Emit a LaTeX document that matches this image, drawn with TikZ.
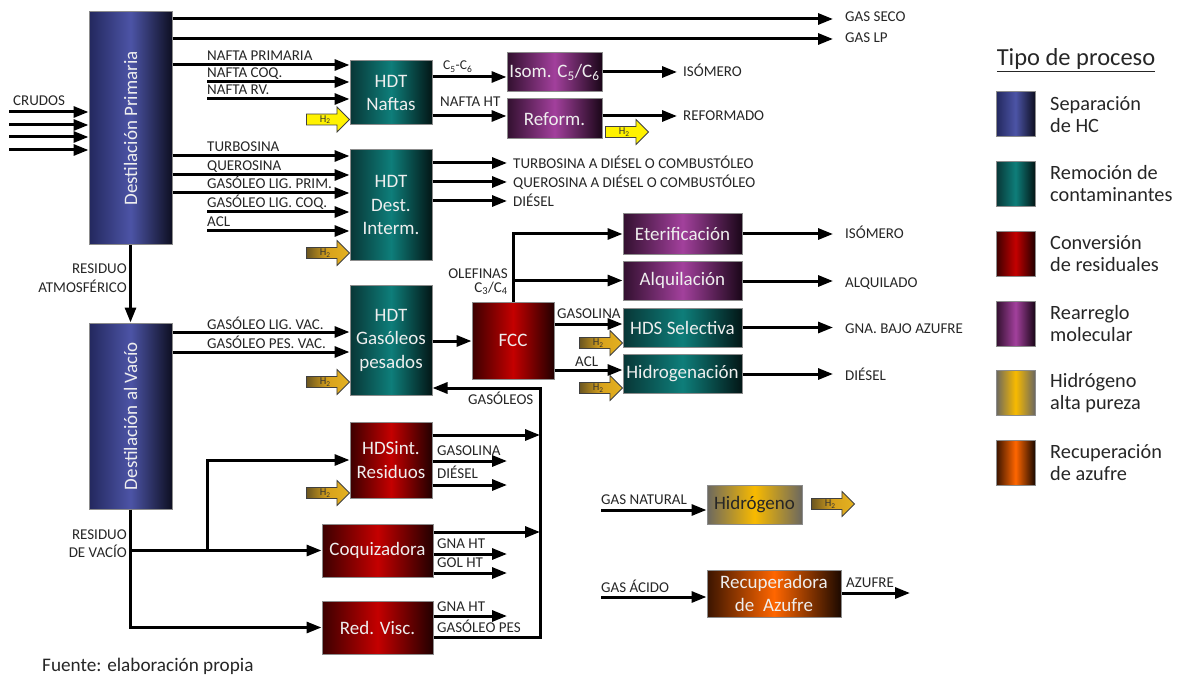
\documentclass[tikz,border=0pt]{standalone}
\usepackage{fontspec}
\setmainfont{Carlito}
\usetikzlibrary{arrows.meta,shapes.arrows}

\definecolor{labelgray}{HTML}{262626}
\definecolor{boxtext}{HTML}{EEEEEE}
\definecolor{sepL}{HTML}{23285E}\definecolor{sepM}{HTML}{4C54A6}\definecolor{sepR}{HTML}{0E0F22}
\definecolor{remL}{HTML}{083636}\definecolor{remM}{HTML}{0E7E7A}\definecolor{remR}{HTML}{031616}
\definecolor{conL}{HTML}{3C0000}\definecolor{conM}{HTML}{C40000}\definecolor{conR}{HTML}{220000}
\definecolor{reaL}{HTML}{32102F}\definecolor{reaM}{HTML}{A2409C}\definecolor{reaR}{HTML}{1A0618}
\definecolor{hydL}{HTML}{6B6860}\definecolor{hydM}{HTML}{F8BA00}\definecolor{hydR}{HTML}{6B6860}
\definecolor{sulL}{HTML}{3A1400}\definecolor{sulM}{HTML}{FF6600}\definecolor{sulR}{HTML}{1C0900}
\definecolor{goldL}{HTML}{6A5520}\definecolor{goldM}{HTML}{D8A21C}\definecolor{goldR}{HTML}{E4B220}

\begin{document}
\begin{tikzpicture}[x=1pt,y=-1pt,
  flow/.style={line width=3pt,-{Triangle[length=15pt,width=11pt]}},
  lbl/.style={font=\fontsize{15}{17}\selectfont,text=labelgray,inner sep=0pt,anchor=base west},
  rlbl/.style={lbl,anchor=base east},
  unit/.style={draw=black!45,line width=1pt,inner sep=0pt,text=boxtext,align=center,
    font=\fontsize{19}{23.5}\selectfont},
  sep/.style={unit,left color=sepL,right color=sepR,middle color=sepM},
  rem/.style={unit,left color=remL,right color=remR,middle color=remM},
  conv/.style={unit,left color=conL,right color=conR,middle color=conM},
  rea/.style={unit,left color=reaL,right color=reaR,middle color=reaM},
  hyd/.style={unit,left color=hydL,right color=hydR,middle color=hydM},
  sul/.style={unit,left color=sulL,right color=sulR,middle color=sulM},
  boxlbl/.style={inner sep=0pt,text=boxtext,font=\fontsize{19}{22}\selectfont},
  htwo/.style={single arrow,single arrow head extend=6pt,minimum width=25pt,
    minimum height=43pt,inner sep=0pt,draw=black!75,line width=0.8pt,anchor=tip,
    font=\fontsize{10.5}{10.5}\selectfont,text=black!80},
  htwoy/.style={htwo,fill=yellow},
  htwog/.style={htwo,left color=goldL,right color=goldR,middle color=goldM},
  legtxt/.style={inner sep=0pt,anchor=west,align=left,text=labelgray,
    font=\fontsize{20.3}{22}\selectfont},
  legbox/.style={minimum width=39pt,minimum height=45pt}
]
\useasboundingbox (0,0) rectangle (1186,679);

% ---------- process units ----------
\node[sep,minimum width=83pt,minimum height=233pt] (dp) at (130.5,128.5) {};
\node[boxlbl,rotate=90] (dpt) at (dp.center) {Destilación Primaria};
\node[sep,minimum width=83pt,minimum height=186pt] (dv) at (130.5,416) {};
\node[boxlbl,rotate=90] (dvt) at (dv.center) {Destilación al Vacío};

\node[rem,minimum width=82pt,minimum height=64pt] (hdtn) at (391,93) {HDT\\Naftas};
\node[rea,minimum width=95pt,minimum height=39pt] (isom) at (554.5,72.5) {Isom. C\textsubscript{5}/C\textsubscript{6}};
\node[rea,minimum width=95pt,minimum height=40pt] (reform) at (554.5,119) {Reform.};
\node[rem,minimum width=82pt,minimum height=110pt] (hdtd) at (391,205) {HDT\\Dest.\\Interm.};
\node[rem,minimum width=82pt,minimum height=110pt] (hdtg) at (391,340) {HDT\\Gasóleos\\pesados};
\node[conv,minimum width=82pt,minimum height=77pt] (fcc) at (513,340.5) {FCC};
\node[rea,minimum width=119pt,minimum height=40pt] (eter) at (682.5,234) {Eterificación};
\node[rea,minimum width=119pt,minimum height=39pt] (alq) at (682.5,280.5) {Alquilación};
\node[rem,minimum width=119pt,minimum height=39pt] (hds) at (682.5,327.5) {HDS Selectiva};
\node[rem,minimum width=119pt,minimum height=39pt] (hidr) at (682.5,373.5) {Hidrogenación};
\node[conv,minimum width=82pt,minimum height=76pt] (hdsr) at (391,460) {HDSint.\\Residuos};
\node[conv,minimum width=111pt,minimum height=53pt] (coq) at (377.5,550.5) {Coquizadora};
\node[conv,minimum width=111pt,minimum height=53pt] (rv) at (377.5,627.5) {Red. Visc.};
\node[hyd,minimum width=95pt,minimum height=39pt,text=labelgray] (h2p) at (754.5,504.5) {Hidrógeno};
\node[sul,minimum width=134pt,minimum height=47pt] (sru) at (774,593.5) {Recuperadora\\de~~Azufre};

% ---------- hydrogen feeds ----------
\node[htwoy] (h2a) at (350,119.5) {H\textsubscript{2}};
\node[htwoy] (h2b) at (649,132) {H\textsubscript{2}};
\node[htwog] (h2c) at (350,253) {H\textsubscript{2}};
\node[htwog] (h2d) at (350,382) {H\textsubscript{2}};
\node[htwog] (h2e) at (623,343) {H\textsubscript{2}};
\node[htwog] (h2f) at (623,388) {H\textsubscript{2}};
\node[htwog] (h2g) at (350,493) {H\textsubscript{2}};
\node[htwog] (h2h) at (855,504) {H\textsubscript{2}};

% ---------- free ends ----------
\coordinate (cr1) at (9,112);
\coordinate (cr2) at (9,125);
\coordinate (cr3) at (9,137);
\coordinate (cr4) at (9,150);
\coordinate (gsEnd) at (833,19);
\coordinate (glpEnd) at (833,39);
\coordinate (ncoq) at (207,82);
\coordinate (nrv) at (207,99);
\coordinate (isoEnd) at (677,72);
\coordinate (refEnd) at (677,116);
\coordinate (glc) at (207,212);
\coordinate (acl) at (207,231);
\coordinate (dOut1) at (507,163);
\coordinate (dOut2) at (507,182);
\coordinate (dOut3) at (507,201);
\coordinate (eterEnd) at (833,234);
\coordinate (alqEnd) at (833,281);
\coordinate (hdsEnd) at (833,327.5);
\coordinate (hidEnd) at (833,374);
\coordinate (ret) at (540,388);
\coordinate (rOut1) at (507,461);
\coordinate (rOut2) at (507,485);
\coordinate (cOut1) at (507,554);
\coordinate (cOut2) at (507,573);
\coordinate (vOut1) at (507,616);
\coordinate (split) at (207,550.5);
\coordinate (gnat) at (601,510);
\coordinate (gacid) at (601,597);
\coordinate (azEnd) at (910,593);

% ---------- crude feed and primary distillation products ----------
\foreach \c in {cr1,cr2,cr3,cr4} \draw[flow] (\c) -- (\c -| dp.west);
\draw[flow] (dp.east |- gsEnd) -- (gsEnd);
\draw[flow] (dp.east |- glpEnd) -- (glpEnd);
\draw[flow] (dp.east |- 0,65) -- (hdtn.west |- 0,65);
\draw[flow] (ncoq) -- (ncoq -| hdtn.west);
\draw[flow] (nrv) -- (nrv -| hdtn.west);
\draw[flow] (hdtn.east |- 0,77) -- (isom.west |- 0,77);
\draw[flow] (hdtn.east |- 0,116) -- (reform.west |- 0,116);
\draw[flow] (isom.east |- isoEnd) -- (isoEnd);
\draw[flow] (reform.east |- refEnd) -- (refEnd);

\draw[flow] (dp.east |- 0,156) -- (hdtd.west |- 0,156);
\draw[flow] (dp.east |- 0,175) -- (hdtd.west |- 0,175);
\draw[flow] (dp.east |- 0,193) -- (hdtd.west |- 0,193);
\draw[flow] (glc) -- (glc -| hdtd.west);
\draw[flow] (acl) -- (acl -| hdtd.west);
\draw[flow] (hdtd.east |- dOut1) -- (dOut1);
\draw[flow] (hdtd.east |- dOut2) -- (dOut2);
\draw[flow] (hdtd.east |- dOut3) -- (dOut3);

\draw[flow] (dp.south) -- (dv.north);

% ---------- vacuum distillation and gas oils ----------
\draw[flow] (dv.east |- 0,332) -- (hdtg.west |- 0,332);
\draw[flow] (dv.east |- 0,352) -- (hdtg.west |- 0,352);
\draw[flow] (hdtg.east |- 0,341) -- (fcc.west |- 0,341);

\draw[flow] (fcc.north) |- (eter.west);
\draw[flow] (fcc.north |- alq.west) -- (alq.west);
\draw[flow] (fcc.east |- 0,324) -- (hds.west |- 0,324);
\draw[flow] (fcc.east |- 0,370) -- (hidr.west |- 0,370);
\draw[flow] (eter.east |- eterEnd) -- (eterEnd);
\draw[flow] (alq.east |- alqEnd) -- (alqEnd);
\draw[flow] (hds.east |- hdsEnd) -- (hdsEnd);
\draw[flow] (hidr.east |- hidEnd) -- (hidEnd);

% gas oil recycle to hydrotreating
\draw[flow] (rv.east |- 0,637) -| (ret) -- (hdtg.east |- ret);
\draw[flow] (hdsr.east |- 0,435) -- (ret |- 0,435);
\draw[flow] (coq.east |- 0,532) -- (ret |- 0,532);

% residue conversion products
\draw[flow] (hdsr.east |- rOut1) -- (rOut1);
\draw[flow] (hdsr.east |- rOut2) -- (rOut2);
\draw[flow] (coq.east |- cOut1) -- (cOut1);
\draw[flow] (coq.east |- cOut2) -- (cOut2);
\draw[flow] (rv.east |- vOut1) -- (vOut1);

% vacuum residue distribution
\draw[flow] (dv.south) |- (rv.west);
\draw[flow] (dv.south |- coq.west) -- (coq.west);
\draw[flow] (split) |- (hdsr.west);

% ---------- auxiliary units ----------
\draw[flow] (gnat) -- (gnat -| h2p.west);
\draw[flow] (gacid) -- (gacid -| sru.west);
\draw[flow] (sru.east |- azEnd) -- (azEnd);

% ---------- stream labels ----------
\node[lbl] (tcr) at (13,106) {CRUDOS};
\node[lbl] (tgs) at (845,22) {GAS SECO};
\node[lbl] (tglp) at (845,43) {GAS LP};
\node[lbl] (tnp) at (207,61) {NAFTA PRIMARIA};
\node[lbl] (tnc) at (207,78) {NAFTA COQ.};
\node[lbl] (tnr) at (207,95) {NAFTA RV.};
\node[lbl,font=\fontsize{13.5}{15}\selectfont] (tc56) at (443,70) {C\textsubscript{5}-C\textsubscript{6}};
\node[lbl] (tnht) at (440,107) {NAFTA HT};
\node[lbl] (tiso) at (683,77) {ISÓMERO};
\node[lbl] (tref) at (683,121) {REFORMADO};
\node[lbl] (ttur) at (207,152) {TURBOSINA};
\node[lbl] (tque) at (207,171) {QUEROSINA};
\node[lbl] (tglp2) at (207,189) {GASÓLEO LIG. PRIM.};
\node[lbl] (tglc) at (207,208) {GASÓLEO LIG. COQ.};
\node[lbl] (tacl) at (207,227) {ACL};
\node[lbl] (to1) at (513,169) {TURBOSINA A DIÉSEL O COMBUSTÓLEO};
\node[lbl] (to2) at (513,188) {QUEROSINA A DIÉSEL O COMBUSTÓLEO};
\node[lbl] (to3) at (513,207) {DIÉSEL};
\node[rlbl] (tra1) at (127,273) {RESIDUO};
\node[rlbl] (tra2) at (127,292) {ATMOSFÉRICO};
\node[lbl] (tglv) at (207,329) {GASÓLEO LIG. VAC.};
\node[lbl] (tgpv) at (207,348) {GASÓLEO PES. VAC.};
\node[rlbl] (tol1) at (508,278) {OLEFINAS};
\node[rlbl] (tol2) at (508,292) {C\textsubscript{3}/C\textsubscript{4}};
\node[lbl] (tgas) at (557,318) {GASOLINA};
\node[lbl] (tacl2) at (575,366) {ACL};
\node[lbl] (tiso2) at (845,239) {ISÓMERO};
\node[lbl] (talq) at (845,287) {ALQUILADO};
\node[lbl] (tgna) at (845,333) {GNA. BAJO AZUFRE};
\node[lbl] (tdie) at (845,380) {DIÉSEL};
\node[lbl] (tgso) at (468,404) {GASÓLEOS};
\node[lbl] (trg) at (437,455) {GASOLINA};
\node[lbl] (trd) at (437,478) {DIÉSEL};
\node[lbl] (tcg) at (437,548) {GNA HT};
\node[lbl] (tco) at (437,567) {GOL HT};
\node[lbl] (tvg) at (437,611) {GNA HT};
\node[lbl] (tvp) at (437,632) {GASÓLEO PES};
\node[rlbl] (trv1) at (127,539) {RESIDUO};
\node[rlbl] (trv2) at (127,557) {DE VACÍO};
\node[lbl] (tgn) at (601,504) {GAS NATURAL};
\node[lbl] (tga) at (601,592) {GAS ÁCIDO};
\node[lbl] (taz) at (846,587) {AZUFRE};

% ---------- legend ----------
\node[inner sep=0pt,text=labelgray,font=\fontsize{24.5}{26}\selectfont] (legT) at (1076,60) {\underline{Tipo de proceso}};
\node[sep,legbox] (lg1) at (1015.5,114.5) {};
\node[rem,legbox] (lg2) at (1015.5,184) {};
\node[conv,legbox] (lg3) at (1015.5,254) {};
\node[rea,legbox] (lg4) at (1015.5,324) {};
\node[hyd,legbox] (lg5) at (1015.5,393) {};
\node[sul,legbox] (lg6) at (1015.5,463) {};
\node[legtxt] (lt1) at (1050,114.5) {Separación\\de HC};
\node[legtxt] (lt2) at (1050,184) {Remoción de\\contaminantes};
\node[legtxt] (lt3) at (1050,254) {Conversión\\de residuales};
\node[legtxt] (lt4) at (1050,324) {Rearreglo\\molecular};
\node[legtxt] (lt5) at (1050,393) {Hidrógeno\\alta pureza};
\node[legtxt] (lt6) at (1050,463) {Recuperación\\de azufre};

% ---------- source note ----------
\node[inner sep=0pt,anchor=base west,text=labelgray,font=\fontsize{19.2}{21}\selectfont] (src) at (42,671) {Fuente: elaboración propia};
\end{tikzpicture}
\end{document}
